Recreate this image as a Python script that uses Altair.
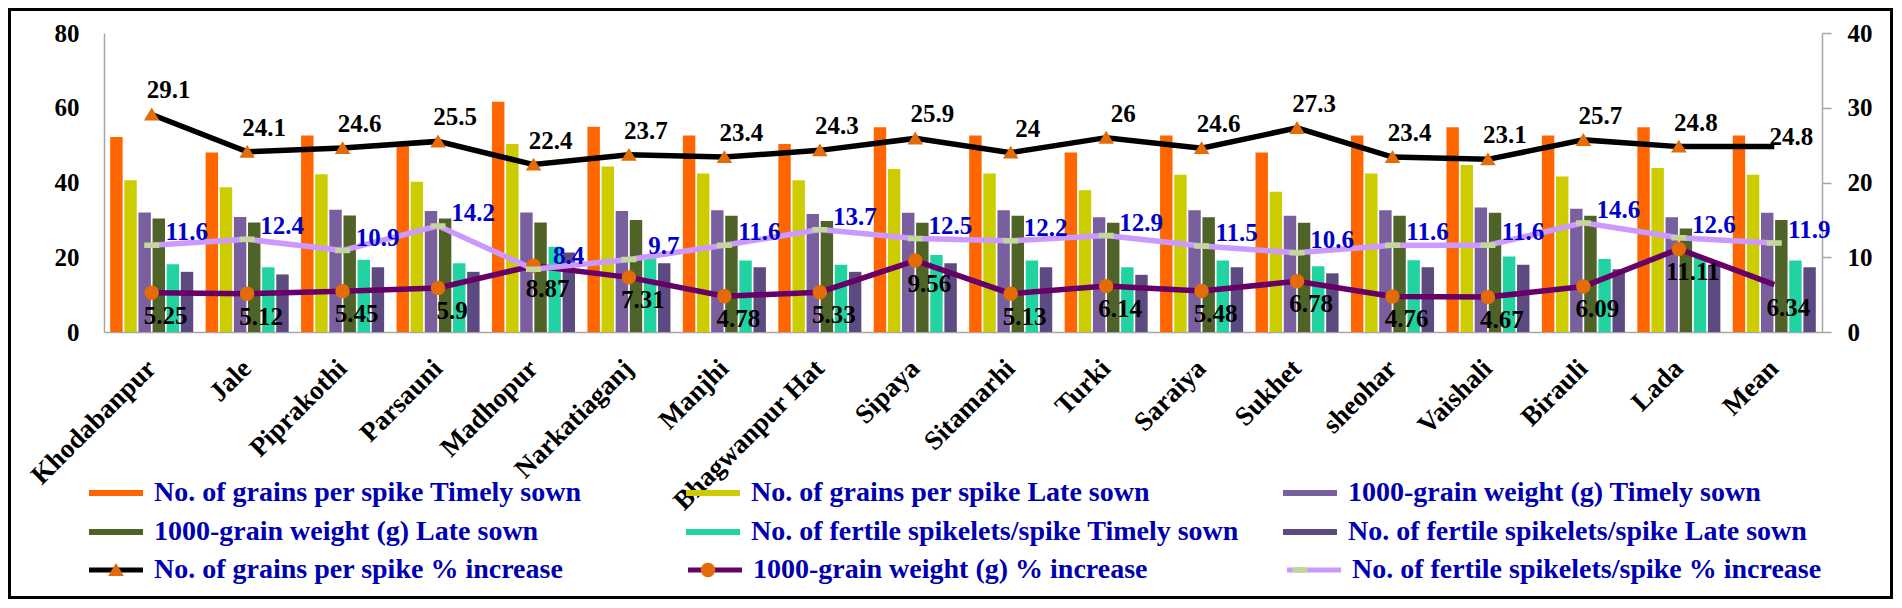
import altair as alt
import pandas as pd

sites = ["Khodabanpur", "Jale", "Piprakothi", "Parsauni", "Madhopur", "Narkatiaganj",
         "Manjhi", "Bhagwanpur Hat", "Sipaya", "Sitamarhi", "Turki", "Saraiya",
         "Sukhet", "sheohar", "Vaishali", "Birauli", "Lada", "Mean"]

bar_names = ["No. of grains per spike Timely sown",
             "No. of grains per spike Late sown",
             "1000-grain weight (g) Timely sown",
             "1000-grain weight (g) Late sown",
             "No. of fertile spikelets/spike Timely sown",
             "No. of fertile spikelets/spike Late sown"]
line_names = ["No. of grains per spike % increase",
              "1000-grain weight (g) % increase",
              "No. of fertile spikelets/spike % increase"]

grains_timely = [52.2, 48.0, 52.6, 49.9, 61.6, 54.9, 52.6, 50.3, 54.8, 52.6, 48.0, 52.6, 48.0, 52.6, 54.8, 52.6, 54.8, 52.6]
grains_late = [40.6, 38.7, 42.2, 40.2, 50.3, 44.3, 42.4, 40.6, 43.6, 42.4, 37.9, 42.1, 37.5, 42.4, 44.7, 41.6, 43.9, 42.1]
weight_timely = [32.0, 30.8, 32.7, 32.4, 32.0, 32.4, 32.6, 31.6, 31.9, 32.6, 30.7, 32.6, 31.1, 32.6, 33.3, 33.0, 30.7, 31.9]
weight_late = [30.4, 29.3, 31.2, 30.4, 29.3, 30.0, 31.1, 29.7, 29.2, 31.1, 29.2, 30.7, 29.2, 31.1, 31.9, 31.1, 27.7, 30.0]
spk_timely = [18.1, 17.3, 19.3, 18.4, 22.8, 19.7, 19.1, 18.0, 20.6, 19.1, 17.3, 19.1, 17.6, 19.2, 20.2, 19.5, 20.1, 19.1]
spk_late = [16.1, 15.4, 17.3, 16.1, 21.3, 18.4, 17.3, 16.1, 18.4, 17.3, 15.3, 17.3, 15.7, 17.3, 18.0, 16.8, 18.0, 17.3]

grains_inc = [29.1, 24.1, 24.6, 25.5, 22.4, 23.7, 23.4, 24.3, 25.9, 24, 26, 24.6, 27.3, 23.4, 23.1, 25.7, 24.8, 24.8]
weight_inc = [5.25, 5.12, 5.45, 5.9, 8.87, 7.31, 4.78, 5.33, 9.56, 5.13, 6.14, 5.48, 6.78, 4.76, 4.67, 6.09, 11.11, 6.34]
spk_inc = [11.6, 12.4, 10.9, 14.2, 8.4, 9.7, 11.6, 13.7, 12.5, 12.2, 12.9, 11.5, 10.6, 11.6, 11.6, 14.6, 12.6, 11.9]

bar_colors = ["#FF6600", "#CCCC00", "#7A5F9E", "#4F6228", "#20D3A0", "#5D4A80"]
line_colors = ["#000000", "#660066", "#CC99FF"]
marker_fills = ["#E36C09", "#E36C09", "#C3D69B"]
# marker shapes; the open sub-path gives each shape the same extent as the legend line symbol
EXT = "M-4.92,0H4.92"
marker_shapes = [EXT + "M0,-1.15L1.3,1.0L-1.3,1.0Z",
                 EXT + "M-1.2,0A1.2,1.2,0,1,1,1.2,0A1.2,1.2,0,1,1,-1.2,0Z",
                 EXT + "M-1.25,-0.45H1.25V0.45H-1.25Z"]

FONT = "Liberation Serif"
W, H = 1718, 299
PAD = {"left": 96, "top": 25, "right": 71, "bottom": 267}

bar_arrays = [grains_timely, grains_late, weight_timely, weight_late, spk_timely, spk_late]
bars_df = pd.DataFrame([{"site": s, "bs": n, "v": v}
                        for n, arr in zip(bar_names, bar_arrays)
                        for s, v in zip(sites, arr)])
line_arrays = [grains_inc, weight_inc, spk_inc]
pt_names = ["m:" + n for n in line_names]
lines_df = pd.DataFrame([{"site": s, "idx": i, "ls": n, "ps": "m:" + n, "v": v, "lab": f"{v:g}"}
                         for n, arr in zip(line_names, line_arrays)
                         for i, (s, v) in enumerate(zip(sites, arr))])

# legend entries are laid out column by column (2 rows), so order them to read row by row
leg_order = [0, 3, 1, 4, 2, 5]
bar_dom = [bar_names[i] for i in leg_order]
bar_rng = [bar_colors[i] for i in leg_order]

x_enc = alt.X("site:N", sort=sites,
              scale=alt.Scale(paddingInner=0.13, paddingOuter=0.065),
              axis=alt.Axis(title=None, labelAngle=-45, labelAlign="right", labelBaseline="middle",
                            labelFont=FONT, labelFontWeight="bold", labelFontSize=27, labelColor="black",
                            labelPadding=32, labelLimit=400, ticks=False, domainColor="#A6A6A6",
                            domainWidth=1.5, grid=False))

LX, LOFF = -2, 24
legend_common = dict(title=None, orient="none", columns=3, gridAlign="all", padding=0,
                     labelFont=FONT, labelFontWeight="bold", labelFontSize=28,
                     labelColor="#0000B0", labelLimit=1000, rowPadding=11, legendX=LX,
                     labelOffset=LOFF, symbolSize=144)

bars = alt.Chart(bars_df).mark_bar().encode(
    x=x_enc,
    xOffset=alt.XOffset("bs:N", sort=bar_names, scale=alt.Scale(paddingInner=0.12, paddingOuter=0)),
    y=alt.Y("v:Q", scale=alt.Scale(domain=[0, 80], nice=False),
            axis=alt.Axis(title=None, values=[0, 20, 40, 60, 80], ticks=False, grid=False,
                          labelFont=FONT, labelFontWeight="bold", labelFontSize=25, labelColor="black",
                          labelPadding=25, domainColor="#A6A6A6", domainWidth=1.5)),
    color=alt.Color("bs:N", scale=alt.Scale(domain=bar_dom, range=bar_rng),
                    legend=alt.Legend(legendY=446, columnPadding=44,
                                      symbolType="M-4.5,-0.5H4.5V0.5H-4.5Z",
                                      symbolStrokeWidth=0, **legend_common)),
)

y_right = alt.Y("v:Q", scale=alt.Scale(domain=[0, 40], nice=False),
                axis=alt.Axis(title=None, orient="right", values=[0, 10, 20, 30, 40], grid=False,
                              ticks=True, tickSize=9, tickColor="#A6A6A6", tickWidth=1.5,
                              labelFont=FONT, labelFontWeight="bold", labelFontSize=25,
                              labelColor="black", labelPadding=16,
                              domainColor="#A6A6A6", domainWidth=1.5))

base = alt.Chart(lines_df).encode(x=x_enc, y=y_right)

lines = base.mark_line(strokeWidth=5.5).encode(
    stroke=alt.Stroke("ls:N", sort=line_names, scale=alt.Scale(domain=line_names, range=line_colors),
                      legend=alt.Legend(legendY=523, columnPadding=54,
                                        symbolType="M-4.5,0H4.5", symbolStrokeWidth=5,
                                        **legend_common)),
    order=alt.Order("idx:Q"),
)

marker_legend = dict(legendY=523, columnPadding=54, symbolStrokeWidth=0, labelOpacity=0,
                     labelExpr="slice(datum.label, 2)", **legend_common)

# the Mean point carries a marker only on the spikelet line, as in the source
points = base.transform_filter(
    (alt.datum.site != "Mean") | (alt.datum.ls == line_names[2])
).mark_point(filled=True, opacity=1, size=144, strokeWidth=0).encode(
    fill=alt.Fill("ps:N", sort=pt_names, scale=alt.Scale(domain=pt_names, range=marker_fills),
                  legend=alt.Legend(**marker_legend)),
    shape=alt.Shape("ps:N", sort=pt_names, scale=alt.Scale(domain=pt_names, range=marker_shapes),
                    legend=alt.Legend(**marker_legend)),
)

def labels(cond, color, dx, dy):
    return base.transform_filter(cond).mark_text(
        font=FONT, fontWeight="bold", fontSize=25, color=color, dx=dx, dy=dy, align="center",
        baseline="middle").encode(text=alt.Text("lab:N"))

t1 = labels((alt.datum.ls == line_names[0]) & (alt.datum.site != "Mean"), "black", 17, -24)
t1m = labels((alt.datum.ls == line_names[0]) & (alt.datum.site == "Mean"), "black", 17, -10)
t2 = labels(alt.datum.ls == line_names[1], "black", 14, 23)
t3 = labels(alt.datum.ls == line_names[2], "#0000CC", 35, -13)

inner = alt.layer(lines, points, t1, t1m, t2, t3)

frame = alt.Chart(pd.DataFrame({"z": [0]})).mark_rect(fillOpacity=0, stroke="black", strokeWidth=3).encode(
    x=alt.value(-PAD["left"] + 1.5), x2=alt.value(W + PAD["right"] - 1.5),
    y=alt.value(-PAD["top"] + 1.5), y2=alt.value(H + PAD["bottom"] - 1.5))

chart = alt.layer(bars, inner, frame).resolve_scale(y="independent", color="independent").properties(
    width=W, height=H, padding=PAD, autosize=alt.AutoSizeParams(type="none")
).configure_view(stroke=None).configure_axis(grid=False)

chart.save("out.html", embed_options={"renderer": "svg", "actions": False})
